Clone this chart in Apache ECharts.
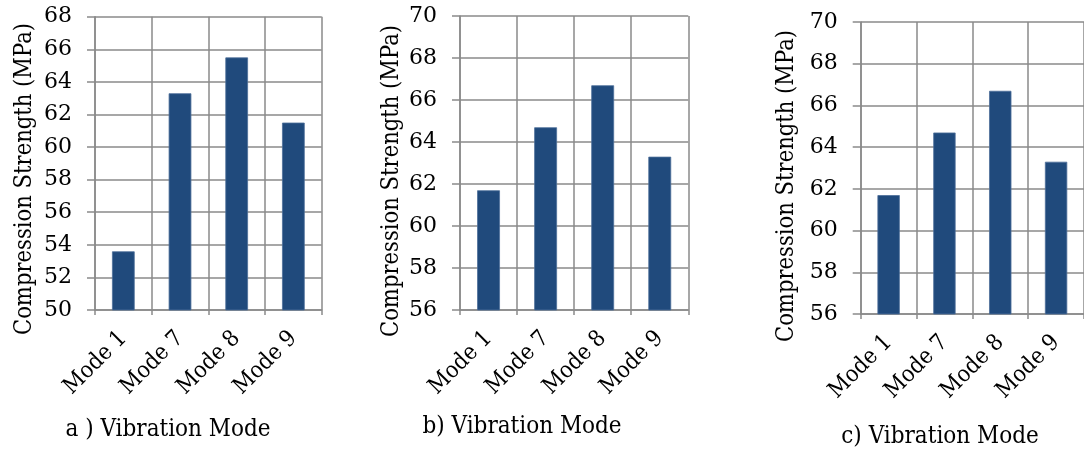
<!DOCTYPE html>
<html>
<head>
<meta charset="utf-8">
<script src="https://cdn.jsdelivr.net/npm/echarts@6/dist/echarts.min.js"></script>
<style>
html,body{margin:0;padding:0;background:#fff;}
#chart{width:1084px;height:452px;}
</style>
</head>
<body>
<div id="chart"></div>
<script>
const categories = ['Mode 1', 'Mode 7', 'Mode 8', 'Mode 9'];
const valuesA = [53.6, 63.3, 65.5, 61.5];
const valuesB = [61.7, 64.7, 66.7, 63.3];
const valuesC = [61.7, 64.7, 66.7, 63.3];
const yRangeA = { min: 50, max: 68, interval: 2 };
const yRangeB = { min: 56, max: 70, interval: 2 };
const yRangeC = { min: 56, max: 70, interval: 2 };
const yAxisTitle = 'Compression Strength (MPa)';
const panelTitles = ['a ) Vibration Mode', 'b) Vibration Mode', 'c) Vibration Mode'];

const SERIF = 'DejaVu Serif';
const SERIF_C = '"DejaVu Serif Condensed", "DejaVu Serif"';
const GRID_COLOR = '#8a8a8a';
const BAR_COLOR = '#204a7c';

const grids = [
  { left: 95, right: 762.3, top: 16.7, bottom: 142 },
  { left: 460, right: 395.7, top: 16, bottom: 142 },
  { left: 860.7, right: -4.7, top: 22, bottom: 138 }
];
const ranges = [yRangeA, yRangeB, yRangeC];
const seriesValues = [valuesA, valuesB, valuesC];
const yLabelPad = [[3, 0, 0, 0], [3, 0, 0, 0], [0, 0, 0, 0]];

const xAxes = [], yAxes = [], series = [];
for (let i = 0; i < 3; i++) {
  xAxes.push({
    type: 'category', gridIndex: i, data: categories, boundaryGap: true,
    axisLine: { show: true, lineStyle: { color: GRID_COLOR, width: 1.5 } },
    axisTick: { show: true, length: 5, lineStyle: { color: GRID_COLOR, width: 1.5 } },
    splitLine: { show: true, lineStyle: { color: GRID_COLOR, width: 1.5 } },
    axisLabel: { rotate: 45, margin: 25, color: '#000', fontFamily: SERIF_C, fontSize: 23, interval: 0 }
  });
  yAxes.push({
    type: 'value', gridIndex: i, min: ranges[i].min, max: ranges[i].max, interval: ranges[i].interval,
    axisLine: { show: true, lineStyle: { color: GRID_COLOR, width: 1.5 } },
    axisTick: { show: true, length: 8, lineStyle: { color: GRID_COLOR, width: 1.5 } },
    splitLine: { show: true, lineStyle: { color: GRID_COLOR, width: 1.5 } },
    axisLabel: { margin: 23, color: '#000', fontFamily: SERIF, fontSize: 22, padding: yLabelPad[i] }
  });
  series.push({
    type: 'bar', xAxisIndex: i, yAxisIndex: i, data: seriesValues[i], barWidth: '40%',
    itemStyle: { color: BAR_COLOR, borderColor: '#4d6e99', borderWidth: 0.8 },
    silent: true
  });
}

const yTitlePos = [[25, 179], [392, 181], [787, 186]];
const bottomTitlePos = [[168, 430], [522, 427], [940, 437]];
const graphics = [];
for (let i = 0; i < 3; i++) {
  graphics.push({
    type: 'text', x: yTitlePos[i][0], y: yTitlePos[i][1], rotation: Math.PI / 2,
    style: { text: yAxisTitle, fill: '#000', fontFamily: SERIF_C, fontSize: 23.5, align: 'center', verticalAlign: 'middle' }
  });
  graphics.push({
    type: 'text', x: bottomTitlePos[i][0], y: bottomTitlePos[i][1],
    style: { text: panelTitles[i], fill: '#000', fontFamily: SERIF_C, fontSize: 24, align: 'center', verticalAlign: 'middle' }
  });
}

const chart = echarts.init(document.getElementById('chart'), null, { renderer: 'canvas' });
chart.setOption({
  animation: false,
  backgroundColor: '#fff',
  grid: grids,
  xAxis: xAxes,
  yAxis: yAxes,
  series: series,
  graphic: graphics
});
</script>
</body>
</html>
